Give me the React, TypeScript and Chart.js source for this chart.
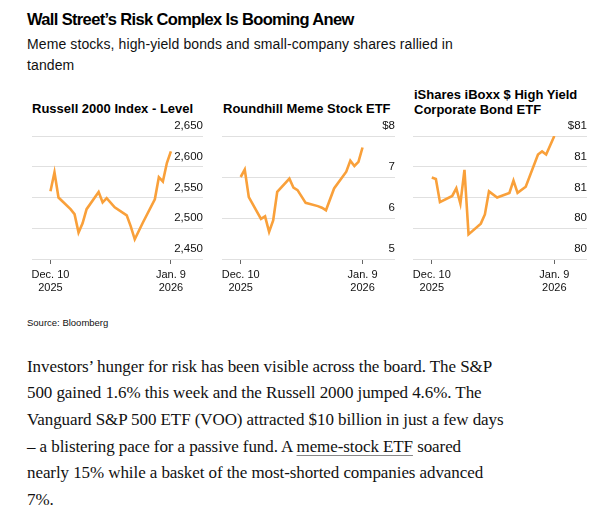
import React, { useEffect, useRef } from "react";
import { Chart, registerables } from "chart.js";

Chart.register(...registerables);

// ---- Data ----
const tradingDates = [
  "2025-12-10", "2025-12-11", "2025-12-12", "2025-12-15", "2025-12-16", "2025-12-17",
  "2025-12-18", "2025-12-19", "2025-12-22", "2025-12-23", "2025-12-24", "2025-12-26",
  "2025-12-29", "2025-12-30", "2025-12-31", "2026-01-02", "2026-01-05", "2026-01-06",
  "2026-01-07", "2026-01-08", "2026-01-09",
];

const russellValues = [
  2560, 2591, 2550, 2531, 2523, 2493, 2508, 2531, 2559, 2542, 2549, 2534,
  2521, 2503, 2482, 2509, 2547, 2583, 2576, 2606, 2625,
];

const memeValues = [
  7.0, 7.18, 6.51, 5.98, 6.04, 5.66, 5.94, 6.64, 6.96, 6.74, 6.68, 6.37,
  6.29, 6.25, 6.19, 6.72, 7.13, 7.4, 7.27, 7.37, 7.72,
];

const hygValues = [
  80.73, 80.72, 80.57, 80.61, 80.66, 80.56, 80.78, 80.36, 80.43, 80.49, 80.64, 80.6,
  80.63, 80.71, 80.63, 80.67, 80.88, 80.9, 80.88, 80.94, 81.0,
];

const russellTickValues = [2450, 2500, 2550, 2600, 2650];
const russellTickLabels = ["2,450", "2,500", "2,550", "2,600", "2,650"];

const memeTickValues = [5, 6, 7, 8];
const memeTickLabels = ["5", "6", "7", "$8"];

const hygTickValues = [80.2, 80.4, 80.6, 80.8, 81.0];
const hygTickLabels = ["80", "80", "81", "81", "$81"];

const xTickDays = [0, 30];
const xTickLabels = [
  ["Dec. 10", "2025"],
  ["Jan. 9", "2026"],
];

// ---- Styles ----
const ORANGE = "#f9a03a";
const SANS = "'Liberation Sans', Arial, Helvetica, sans-serif";
const SERIF = "'Liberation Serif', 'Times New Roman', serif";
const X_MIN = -4.6;
const X_MAX = 38.0;

type PanelProps = {
  values: number[];
  tickValues: number[];
  tickLabels: string[];
  left: number;
  width: number;
};

function Panel({ values, tickValues, tickLabels, left, width }: PanelProps) {
  const ref = useRef<HTMLCanvasElement>(null);

  useEffect(() => {
    const t0 = Date.parse(tradingDates[0]);
    const days = tradingDates.map((d) => Math.round((Date.parse(d) - t0) / 86400000));
    const chart = new Chart(ref.current as HTMLCanvasElement, {
      type: "line",
      data: {
        datasets: [
          {
            data: days.map((x, i) => ({ x, y: values[i] })),
            borderColor: ORANGE,
            borderWidth: 2.6,
            pointRadius: 0,
            tension: 0,
            fill: false,
          },
        ],
      },
      options: {
        animation: false,
        responsive: true,
        maintainAspectRatio: false,
        layout: { padding: { top: 21, bottom: 0, left: 0, right: 0 } },
        plugins: {
          legend: { display: false },
          tooltip: { enabled: false },
        },
        scales: {
          x: {
            type: "linear",
            min: X_MIN,
            max: X_MAX,
            afterBuildTicks: (s: any) => {
              s.ticks = xTickDays.map((v) => ({ value: v }));
            },
            afterFit: (s: any) => {
              s.height = 41;
              s.paddingLeft = 0;
              s.paddingRight = 0;
            },
            ticks: {
              autoSkip: false,
              maxRotation: 0,
              padding: 4,
              color: "#111",
              font: { family: SANS, size: 11 },
              callback: (v: any) => {
                const i = xTickDays.indexOf(Number(v));
                return i >= 0 ? xTickLabels[i] : "";
              },
            },
            grid: {
              drawOnChartArea: false,
              drawTicks: true,
              tickLength: 5,
              color: "#666",
              lineWidth: 1,
            },
            border: { display: false },
          },
          y: {
            type: "linear",
            position: "right",
            min: tickValues[0],
            max: tickValues[tickValues.length - 1],
            afterBuildTicks: (s: any) => {
              s.ticks = tickValues.map((v) => ({ value: v }));
            },
            afterFit: (s: any) => {
              s.width = 0;
              s.paddingTop = 0;
              s.paddingBottom = 0;
            },
            ticks: {
              mirror: true,
              padding: 0,
              labelOffset: -10,
              color: "#111",
              font: { family: SANS, size: 11.5 },
              callback: (v: any) => {
                const i = tickValues.findIndex((t) => Math.abs(t - Number(v)) < 1e-6);
                return i >= 0 ? tickLabels[i] : "";
              },
            },
            grid: { color: "#e0e0e0", lineWidth: 1, drawTicks: false },
            border: { display: false },
          },
        },
      },
    });
    return () => chart.destroy();
  }, []);

  return (
    <div style={{ position: "absolute", left, top: 115, width, height: 185 }}>
      <canvas ref={ref} />
    </div>
  );
}

const panelTitle: React.CSSProperties = {
  position: "absolute",
  fontFamily: SANS,
  fontWeight: 700,
  fontSize: 13,
  lineHeight: "14.5px",
  color: "#000",
  whiteSpace: "nowrap",
};

export default function App() {
  return (
    <div
      style={{
        position: "absolute",
        left: 0,
        top: 0,
        width: 616,
        height: 520,
        background: "#fff",
        overflow: "hidden",
      }}
    >
      <div
        style={{
          position: "absolute",
          left: 27,
          top: 9.3,
          fontFamily: SANS,
          fontWeight: 700,
          fontSize: 16.5,
          lineHeight: "20px",
          letterSpacing: "-0.65px",
          color: "#000",
          whiteSpace: "nowrap",
        }}
      >
        Wall Street’s Risk Complex Is Booming Anew
      </div>
      <div
        style={{
          position: "absolute",
          left: 27,
          top: 33.8,
          fontFamily: SANS,
          fontSize: 14,
          lineHeight: "21.3px",
          letterSpacing: "0.1px",
          color: "#111",
          whiteSpace: "nowrap",
        }}
      >
        Meme stocks, high-yield bonds and small-company shares rallied in
        <br />
        tandem
      </div>

      <div style={{ ...panelTitle, left: 32, top: 101.5 }}>Russell 2000 Index - Level</div>
      <div style={{ ...panelTitle, left: 223, top: 101.5 }}>Roundhill Meme Stock ETF</div>
      <div style={{ ...panelTitle, left: 414, top: 88.2 }}>
        iShares iBoxx $ High Yield
        <br />
        Corporate Bond ETF
      </div>

      <Panel values={russellValues} tickValues={russellTickValues} tickLabels={russellTickLabels} left={32} width={171} />
      <Panel values={memeValues} tickValues={memeTickValues} tickLabels={memeTickLabels} left={222} width={173} />
      <Panel values={hygValues} tickValues={hygTickValues} tickLabels={hygTickLabels} left={413} width={174} />

      <div
        style={{
          position: "absolute",
          left: 27,
          top: 317.4,
          fontFamily: SANS,
          fontSize: 9.5,
          lineHeight: "12px",
          color: "#111",
          whiteSpace: "nowrap",
        }}
      >
        Source: Bloomberg
      </div>

      <div
        style={{
          position: "absolute",
          left: 27,
          top: 353.6,
          fontFamily: SERIF,
          fontSize: 17,
          lineHeight: "26.7px",
          letterSpacing: "-0.08px",
          color: "#111",
          whiteSpace: "nowrap",
        }}
      >
        Investors’ hunger for risk has been visible across the board. The S&amp;P
        <br />
        500 gained 1.6% this week and the Russell 2000 jumped 4.6%. The
        <br />
        Vanguard S&amp;P 500 ETF (VOO) attracted $10 billion in just a few days
        <br />
        – a blistering pace for a passive fund. A{" "}
        <span
          style={{
            textDecoration: "underline",
            textDecorationColor: "#888",
            textDecorationThickness: "1px",
            textUnderlineOffset: "3px",
          }}
        >
          meme-stock ETF
        </span>{" "}
        soared
        <br />
        nearly 15% while a basket of the most-shorted companies advanced
        <br />
        7%.
      </div>
    </div>
  );
}
